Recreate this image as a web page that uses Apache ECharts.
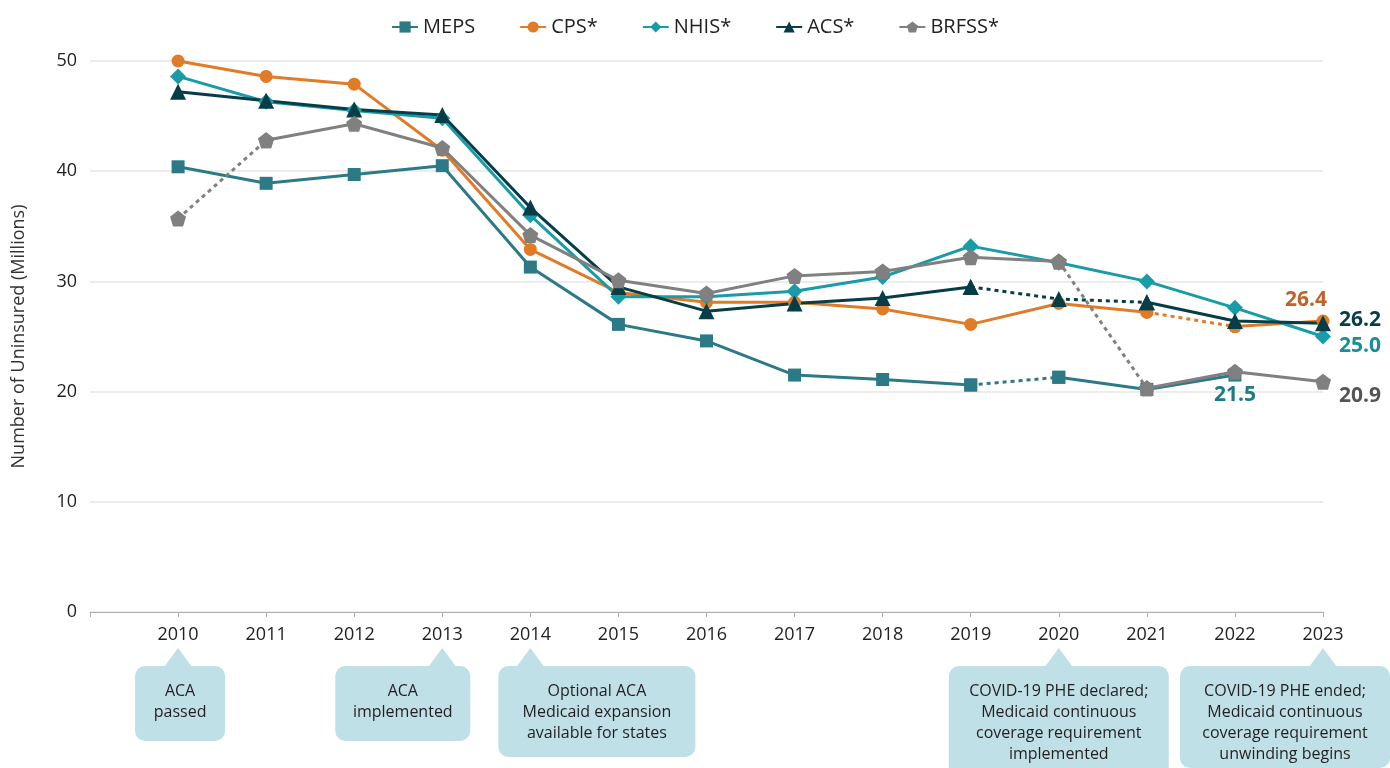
<!DOCTYPE html>
<html>
<head>
<meta charset="utf-8">
<script src="https://cdn.jsdelivr.net/npm/echarts@6/dist/echarts.min.js"></script>
<style>
html,body{margin:0;padding:0;background:#fff;}
#chart{width:1390px;height:768px;}
</style>
</head>
<body>
<div id="chart"></div>
<script>
// ---------- DATA ----------
const years = [2010,2011,2012,2013,2014,2015,2016,2017,2018,2019,2020,2021,2022,2023];
const yTicks = [0,10,20,30,40,50];
const seriesNames = ['MEPS','CPS*','NHIS*','ACS*','BRFSS*'];
const meps  = [40.4,38.9,39.7,40.5,31.3,26.1,24.6,21.5,21.1,20.6,21.3,20.2,21.5,null];
const cps   = [50.0,48.6,47.9,41.9,32.9,29.0,28.1,28.1,27.5,26.1,28.0,27.2,25.9,26.4];
const nhis  = [48.6,46.3,45.5,44.8,36.0,28.6,28.6,29.1,30.4,33.2,31.7,30.0,27.6,25.0];
const acs   = [47.2,46.4,45.6,45.1,36.7,29.5,27.3,28.0,28.5,29.5,28.4,28.1,26.4,26.2];
const brfss = [35.7,42.8,44.3,42.1,34.2,30.1,28.9,30.5,30.9,32.2,31.8,20.3,21.8,20.9];
// years at which a dotted (non-comparable) segment starts
const mepsDotted  = [2019];
const cpsDotted   = [2021];
const nhisDotted  = [];
const acsDotted   = [2019,2020];
const brfssDotted = [2010,2020];
// labelled points
const mepsLabelYear = 2022, cpsLabelYear = 2023, nhisLabelYear = 2023, acsLabelYear = 2023, brfssLabelYear = 2023;
const annotations = [
  {year:2010, text:'ACA\npassed'},
  {year:2013, text:'ACA\nimplemented'},
  {year:2014, text:'Optional ACA\nMedicaid expansion\navailable for states'},
  {year:2020, text:'COVID-19 PHE declared;\nMedicaid continuous\ncoverage requirement\nimplemented'},
  {year:2023, text:'COVID-19 PHE ended;\nMedicaid continuous\ncoverage requirement\nunwinding begins'}
];

// ---------- STYLE ----------
const FONT = '"Open Sans", "Noto Sans", sans-serif';
const pentagon = 'path://M0,-10 L9.51,-3.09 L5.88,8.09 L-5.88,8.09 L-9.51,-3.09 Z';
const styles = {
  'MEPS':  {color:'#2d7a87', symbol:'rect', size:13, label:{position:'bottom', distance:3, color:'#1d7c82', offset:[0,0]}},
  'CPS*':  {color:'#e07b28', symbol:'circle', size:13, label:{position:'top', distance:4, color:'#c0622a', offset:[-17,0]}},
  'NHIS*': {color:'#1a9ba8', symbol:'diamond', size:16, label:{position:'right', distance:8, color:'#1a8f9b', offset:[0,10]}},
  'ACS*':  {color:'#063d47', symbol:'triangle', size:16, label:{position:'right', distance:8, color:'#063d47', offset:[0,-3]}},
  'BRFSS*':{color:'#808080', symbol:pentagon, size:16, label:{position:'right', distance:8, color:'#555555', offset:[0,14]}}
};

function buildSeries(name, vals, dotted, labelYear){
  const st = styles[name];
  const out = [];
  let run = null;
  function pt(i){
    const item = {value:[years[i], vals[i]]};
    if (years[i] === labelYear){
      item.label = Object.assign({show:true, formatter: p => p.value[1].toFixed(1),
        fontSize:21, fontWeight:'bold', fontFamily:FONT}, st.label);
    }
    return item;
  }
  for (let i=0;i<years.length-1;i++){
    if (vals[i]==null || vals[i+1]==null) { run=null; continue; }
    const type = dotted.includes(years[i]) ? 'dotted' : 'solid';
    if (run && run.type===type && run.last===i){
      run.data.push(pt(i+1)); run.last=i+1;
    } else {
      run = {type, data:[pt(i), pt(i+1)], last:i+1};
      out.push(run);
    }
  }
  // solid runs first so the legend icon is solid
  out.sort((a,b) => (a.type===b.type) ? 0 : (a.type==='solid' ? -1 : 1));
  return out.map(r => ({
    name, type:'line', data:r.data, symbol:st.symbol, symbolSize:st.size,
    itemStyle:{color:st.color}, lineStyle:{color:st.color, width:3, type: r.type==='dotted' ? [4,4] : 'solid'},
    emphasis:{disabled:true}, animation:false, z: 2
  }));
}

const allSeries = [].concat(
  buildSeries('MEPS', meps, mepsDotted, mepsLabelYear),
  buildSeries('CPS*', cps, cpsDotted, cpsLabelYear),
  buildSeries('NHIS*', nhis, nhisDotted, nhisLabelYear),
  buildSeries('ACS*', acs, acsDotted, acsLabelYear),
  buildSeries('BRFSS*', brfss, brfssDotted, brfssLabelYear)
);

const chart = echarts.init(document.getElementById('chart'), null, {renderer:'canvas'});
chart.setOption({
  backgroundColor:'#fff',
  animation:false,
  legend:{
    data: seriesNames, top:12, left:'center', itemGap:44, itemWidth:26, itemHeight:14,
    textStyle:{fontSize:20, color:'#222', fontFamily:FONT}
  },
  grid:{left:90, right:67, top:61, bottom:156, containLabel:false},
  xAxis:{
    type:'value', min:years[0]-1, max:years[years.length-1], interval:1,
    axisLine:{show:true, lineStyle:{color:'#b0b0b0', width:1}},
    axisTick:{show:true, length:5, lineStyle:{color:'#b0b0b0'}},
    splitLine:{show:false},
    axisLabel:{fontSize:18, color:'#222', fontFamily:FONT, margin:14,
      formatter: v => years.includes(v) ? String(v) : ''}
  },
  yAxis:{
    type:'value', min:yTicks[0], max:yTicks[yTicks.length-1], interval:10,
    name:'Number of Uninsured (Millions)', nameLocation:'middle', nameGap:62,
    nameTextStyle:{fontSize:18, color:'#333', fontFamily:FONT},
    axisLine:{show:false}, axisTick:{show:false},
    splitLine:{lineStyle:{color:'#e6e6e6', width:1.5}},
    axisLabel:{fontSize:18, color:'#222', fontFamily:FONT, margin:13}
  },
  series: allSeries
});

// ---------- ANNOTATION CALLOUTS ----------
const boxLayout = [
  {dl:-43, dr:47, h:75},
  {dl:-107, dr:28, h:75},
  {dl:-32, dr:165, h:91},
  {dl:-110, dr:110, h:110},
  {dl:-143, dr:67, h:102}
];
const graphics = [];
annotations.forEach((a,i) => {
  const px = chart.convertToPixel({gridIndex:0}, [a.year, 0]);
  const tipX = px[0], tipY = 648, top = 666;
  const L = boxLayout[i];
  const x0 = tipX + L.dl, x1 = tipX + L.dr;
  const fill = '#bfe0e6';
  graphics.push({type:'rect', shape:{x:x0, y:top, width:x1-x0, height:L.h, r:10}, style:{fill}, silent:true});
  graphics.push({type:'polygon', shape:{points:[[tipX, tipY],[tipX-14, top+1],[tipX+14, top+1]]}, style:{fill}, silent:true});
  graphics.push({type:'text', x:(x0+x1)/2, y:top+15, style:{text:a.text, fill:'#231f20', fontSize:16,
    fontFamily:FONT, align:'center', verticalAlign:'top', lineHeight:21}, silent:true});
});
chart.setOption({graphic:graphics});
</script>
</body>
</html>
